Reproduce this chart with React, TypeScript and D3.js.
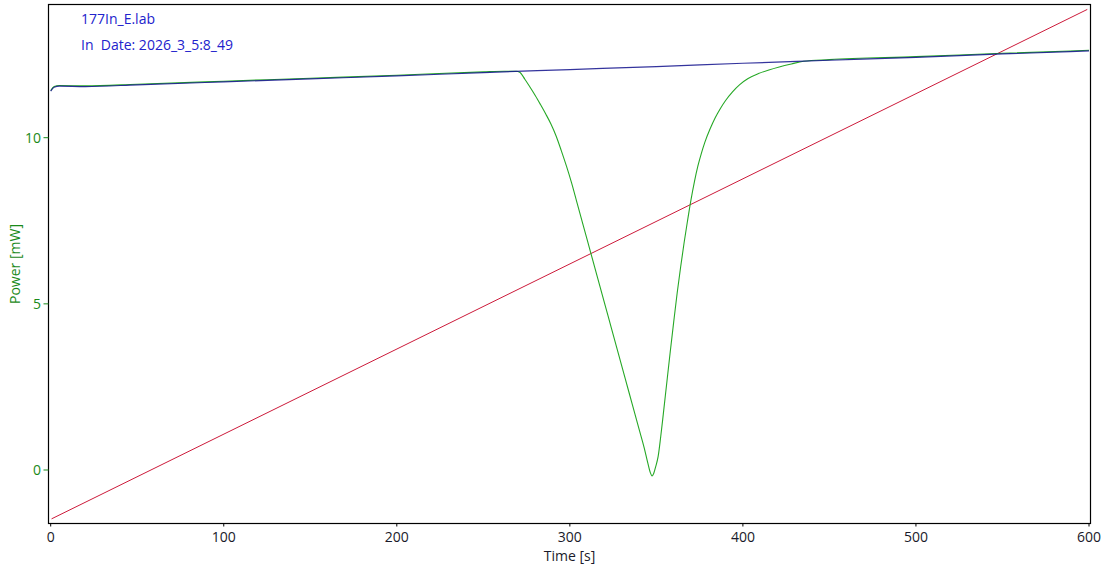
import React from "react";
import * as d3 from "d3";

const W = 1104;
const H = 568;

const xTicks = [0, 100, 200, 300, 400, 500, 600];
const yTicks = [0, 5, 10];

const titleLines = ["177In_E.lab", "In  Date: 2026_3_5:8_49"];
const xLabel = "Time [s]";
const yLabel = "Power [mW]";

// Red reference line (time, value)
const redTime = [0.5, 599];
const redValue = [-1.47, 13.86];

// Blue baseline (time, value)
const blueTime = [0, 2, 5, 20, 50, 100, 150, 200, 250, 300, 350, 400, 450, 500, 550, 600];
const blueValue = [11.4, 11.52, 11.55, 11.54, 11.59, 11.68, 11.77, 11.86, 11.96, 12.05, 12.14, 12.24, 12.33, 12.42, 12.52, 12.61];

// Green measured signal (time, value)
const greenTime = [
  0, 2, 5, 20, 50, 100, 150, 200, 250, 262, 269, 271, 274, 277, 280, 283, 286, 289, 292, 295, 298,
  301, 304, 308, 312, 316, 320, 324, 328, 332, 336, 340, 343, 345, 346.5, 347.5, 348.5, 349.5, 351,
  352.5, 354, 356, 358, 360, 362, 364, 366, 368, 370, 372, 374, 376, 378, 381, 384, 387, 390, 394,
  398, 403, 409, 415, 421, 428, 435, 450, 500, 550, 600,
];
const greenValue = [
  11.42, 11.54, 11.57, 11.56, 11.61, 11.7, 11.79, 11.88, 11.98, 12.0, 12.0, 11.97, 11.76, 11.52,
  11.27, 11.0, 10.72, 10.42, 10.06, 9.62, 9.15, 8.64, 8.07, 7.31, 6.55, 5.79, 5.03, 4.27, 3.51,
  2.75, 1.99, 1.23, 0.66, 0.22, -0.08, -0.18, -0.1, 0.08, 0.4, 1.0, 1.68, 2.62, 3.55, 4.45, 5.32,
  6.1, 6.83, 7.5, 8.13, 8.68, 9.15, 9.53, 9.86, 10.26, 10.6, 10.88, 11.12, 11.38, 11.59, 11.78,
  11.93, 12.04, 12.13, 12.22, 12.3, 12.35, 12.44, 12.54, 12.63,
];

const FONT = "'Open Sans', 'DejaVu Sans', sans-serif";

export default function App() {
  const frame = { left: 48.5, top: 4.5, right: 1090.5, bottom: 523.5 };
  const x = d3.scaleLinear().domain([0, 600]).range([50.7, 1089]);
  const y = d3.scaleLinear().domain([0, 10]).range([470, 137.7]);

  const line = d3
    .line<[number, number]>()
    .x((d) => x(d[0]))
    .y((d) => y(d[1]))
    .curve(d3.curveMonotoneX);

  const red = redTime.map((t, i) => [t, redValue[i]] as [number, number]);
  const blue = blueTime.map((t, i) => [t, blueValue[i]] as [number, number]);
  const green = greenTime.map((t, i) => [t, greenValue[i]] as [number, number]);

  const cx = (frame.left + frame.right) / 2;
  const cy = (frame.top + frame.bottom) / 2;

  return (
    <svg
      width={W}
      height={H}
      style={{ position: "absolute", left: 0, top: 0, background: "#fff" }}
      fontFamily={FONT}
    >
      <rect x={0} y={0} width={W} height={H} fill="#fff" />
      <defs>
        <clipPath id="plot">
          <rect x={frame.left} y={frame.top} width={frame.right - frame.left} height={frame.bottom - frame.top} />
        </clipPath>
      </defs>
      <g clipPath="url(#plot)">
        <path d={line(red) || ""} fill="none" stroke="#cc1a3a" strokeWidth={1} />
        <path d={line(green) || ""} fill="none" stroke="#26a826" strokeWidth={1.1} />
        <path d={line(blue) || ""} fill="none" stroke="#10108c" strokeWidth={1.2} strokeOpacity={0.85} />
      </g>
      <rect
        x={frame.left}
        y={frame.top}
        width={frame.right - frame.left}
        height={frame.bottom - frame.top}
        fill="none"
        stroke="#000"
        strokeWidth={1.2}
      />
      {xTicks.map((t) => (
        <g key={"x" + t}>
          <line x1={x(t)} x2={x(t)} y1={frame.bottom} y2={frame.bottom + 3} stroke="#000" />
          <text x={x(t)} y={542} textAnchor="middle" fontSize={14} fill="#1a1a2a">
            {t}
          </text>
        </g>
      ))}
      {yTicks.map((t) => (
        <g key={"y" + t}>
          <line x1={frame.left - 5} x2={frame.left} y1={y(t)} y2={y(t)} stroke="#1a8a1a" />
          <text x={41} y={y(t)} dy="0.35em" textAnchor="end" fontSize={14} fill="#1a8a1a">
            {t}
          </text>
        </g>
      ))}
      <text x={cx} y={561} textAnchor="middle" fontSize={14} fill="#1a1a2a">
        {xLabel}
      </text>
      <text
        transform={`translate(20,${cy}) rotate(-90)`}
        textAnchor="middle"
        fontSize={14}
        fill="#1a8a1a"
      >
        {yLabel}
      </text>
      {titleLines.map((s, i) => (
        <text key={s} x={81} y={24 + i * 26} fontSize={14} fill="#2222cc" xmlSpace="preserve">
          {s}
        </text>
      ))}
    </svg>
  );
}
